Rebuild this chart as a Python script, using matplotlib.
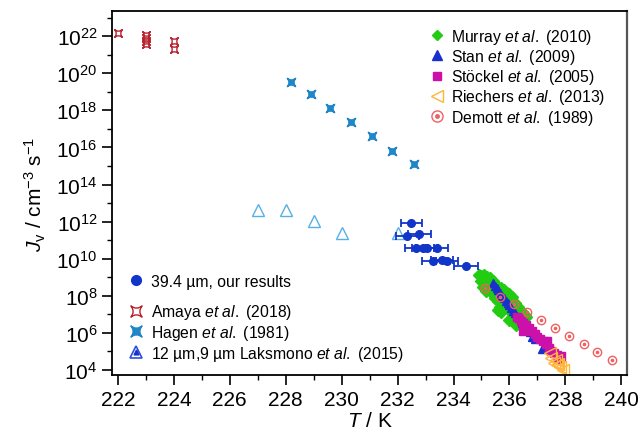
import numpy as np
import matplotlib
matplotlib.use('Agg')
import matplotlib.pyplot as plt
from matplotlib.path import Path
from matplotlib.lines import Line2D
from matplotlib.ticker import FixedLocator, NullFormatter

plt.rcParams['font.family'] = ['Liberation Sans', 'DejaVu Sans']
plt.rcParams['mathtext.fontset'] = 'custom'
plt.rcParams['mathtext.rm'] = 'Liberation Sans'
plt.rcParams['mathtext.it'] = 'Liberation Sans:italic'
plt.rcParams['mathtext.bf'] = 'Liberation Sans:bold'

# ---------------- data (T in K, log10 J in cm^-3 s^-1) ----------------
amaya_T = [222.0, 223.0, 223.0, 223.0, 223.0, 224.0, 224.0]
amaya_logJ = [22.15, 22.07, 21.89, 21.73, 21.58, 21.75, 21.3]

hagen_T = [228.2, 228.9, 229.6, 230.35, 231.1, 231.8, 232.6]
hagen_logJ = [19.52, 18.86, 18.14, 17.37, 16.6, 15.82, 15.09]

laks_T = [227.0, 228.0, 229.0, 230.0, 232.0]
laks_logJ = [12.62, 12.6, 12.03, 11.39, 11.4]

ours_T = [232.49, 232.35, 232.78, 232.66, 232.92, 233.06, 233.42, 233.28, 233.58, 233.76, 234.45]
ours_logJ = [11.91, 11.21, 11.33, 10.58, 10.6, 10.56, 10.6, 9.89, 9.95, 9.87, 9.59]
ours_Terr = [0.38, 0.4, 0.4, 0.4, 0.4, 0.4, 0.4, 0.4, 0.4, 0.4, 0.44]

murray_T = [234.9, 235.0, 235.1, 235.2, 235.3, 235.0, 235.1, 235.2, 235.05, 235.4,
            235.5, 235.6, 235.7, 235.8, 235.9, 236.0, 236.1, 235.3, 235.4, 235.5,
            235.6, 235.7, 235.8, 235.9, 236.0, 236.1, 236.2, 236.3, 236.4, 236.5,
            236.6, 236.2, 236.3, 236.4, 236.5, 236.1, 236.0, 235.6, 235.7, 235.65,
            235.2, 235.35, 236.2, 236.25, 235.45, 235.55, 235.85, 235.95, 236.35, 236.55,
            235.15, 235.25, 235.75, 236.05]
murray_logJ = [9.1, 9.05, 9.1, 9.0, 8.95, 8.8, 8.7, 8.55, 8.5, 8.8,
               8.6, 8.5, 8.4, 8.3, 8.15, 8.1, 7.95, 8.3, 8.1, 7.9,
               7.7, 7.9, 7.6, 7.4, 7.5, 7.3, 7.6, 7.4, 7.2, 7.0,
               6.85, 7.1, 6.9, 6.75, 6.65, 6.8, 6.7, 7.25, 7.15, 7.4,
               8.85, 8.65, 6.55, 6.45, 8.35, 8.15, 7.95, 7.85, 7.05, 6.95,
               8.25, 8.4, 7.45, 7.15]

stan_T = [235.4, 235.47, 235.54, 235.6, 235.67, 235.74, 235.8, 235.87, 235.94, 236.0,
          236.07, 236.14, 236.2, 236.27, 236.34, 236.45, 236.55, 236.72, 236.8, 236.9, 237.16]
stan_logJ = [8.7, 8.55, 8.42, 8.3, 8.15, 8.0, 7.88, 7.74, 7.6, 7.48,
             7.33, 7.2, 7.07, 6.93, 6.8, 6.55, 6.35, 6.04, 5.8, 5.65, 5.14]

stockel_T = [236.28, 236.35, 236.4, 236.5, 236.6, 236.7, 236.8, 236.9, 237.0, 237.1,
             237.2, 237.3, 237.4, 237.5, 237.6, 237.7, 237.8, 237.85, 237.33, 237.75, 236.48]
stockel_logJ = [6.85, 6.8, 6.65, 6.55, 6.4, 6.25, 6.1, 5.95, 5.8, 5.65,
                5.55, 5.4, 5.2, 5.05, 4.9, 4.8, 4.7, 4.75, 5.58, 4.6, 6.1]

riech_T = [237.45, 237.5, 237.6, 237.65, 237.75, 237.8, 237.9, 237.7]
riech_logJ = [4.9, 4.65, 4.4, 4.55, 4.3, 4.15, 4.0, 4.25]

demott_T = [235.13, 235.67, 236.17, 236.63, 237.13, 237.63, 238.14, 238.65, 239.14, 239.67]
demott_logJ = [8.42, 7.95, 7.56, 7.13, 6.71, 6.27, 5.83, 5.42, 4.99, 4.56]

xticks = [222, 224, 226, 228, 230, 232, 234, 236, 238, 240]
ytick_exps = [4, 6, 8, 10, 12, 14, 16, 18, 20, 22]

def J(v):
    return 10.0 ** np.asarray(v)

# ---------------- marker shapes ----------------
M, C = Path.MOVETO, Path.CURVE3
c = -0.2
star_verts = [(-1, -1), (0, c), (1, -1), (-c, 0), (1, 1), (0, -c), (-1, 1), (c, 0), (-1, -1), (0, 0)]
star_codes = [M, C, C, C, C, C, C, C, C, Path.CLOSEPOLY]
star = Path(star_verts, star_codes)

col_amaya = '#b8232f'
col_hagen = '#1f86c8'
col_laks = '#56b0e6'
col_ours = '#1035c8'
col_murray = '#22cc10'
col_stan = '#1a30cc'
col_stockel = '#cc10aa'
col_riech = '#ffb43c'
col_demott = '#f06060'

fig = plt.figure(figsize=(6.4, 4.39), dpi=100)
ax = fig.add_axes([0.175, 0.1435, 0.805, 0.829])

ax.plot(amaya_T, J(amaya_logJ), ls='none', marker=star, ms=5.5, mfc='none', mec=col_amaya, mew=1.0)
ax.plot(hagen_T, J(hagen_logJ), ls='none', marker=star, ms=6, mfc=col_hagen, mec=col_hagen, mew=1.0)
ax.plot(laks_T, J(laks_logJ), ls='none', marker='^', ms=8, mfc='none', mec=col_laks, mew=1.0)
ax.plot(murray_T, J(murray_logJ), ls='none', marker='D', ms=6, mfc=col_murray, mec=col_murray)
ax.plot(stan_T, J(stan_logJ), ls='none', marker='^', ms=6, mfc=col_stan, mec=col_stan)
ax.plot(stockel_T, J(stockel_logJ), ls='none', marker='s', ms=6, mfc=col_stockel, mec=col_stockel)
ax.plot(riech_T, J(riech_logJ), ls='none', marker='<', ms=8, mfc='none', mec=col_riech, mew=1.0)
ax.plot(demott_T, J(demott_logJ), ls='none', marker='o', ms=6, mfc='none', mec=col_demott, mew=1.0)
ax.plot(demott_T, J(demott_logJ), ls='none', marker='o', ms=1.6, mfc=col_demott, mec=col_demott)
ax.errorbar(ours_T, J(ours_logJ), xerr=ours_Terr, fmt='o', ms=5.5, color=col_ours,
            ecolor=col_ours, elinewidth=1.3, capsize=3, capthick=1.3)

# ---------------- legends ----------------
fs_leg = 11.3
h_murray = Line2D([], [], ls='none', marker='D', ms=5, mfc=col_murray, mec=col_murray)
h_stan = Line2D([], [], ls='none', marker='^', ms=7, mfc=col_stan, mec=col_stan)
h_stockel = Line2D([], [], ls='none', marker='s', ms=5.5, mfc=col_stockel, mec=col_stockel)
h_riech = Line2D([], [], ls='none', marker='<', ms=9, mfc='none', mec=col_riech, mew=1.0)
h_dem1 = Line2D([], [], ls='none', marker='o', ms=8, mfc='none', mec=col_demott, mew=1.0)
h_dem2 = Line2D([], [], ls='none', marker='o', ms=2.5, mfc=col_demott, mec=col_demott)
leg1 = ax.legend([h_murray, h_stan, h_stockel, h_riech, (h_dem1, h_dem2)],
                 [r'Murray $\it{et\ al.}$ (2010)', r'Stan $\it{et\ al.}$ (2009)',
                  r'Stöckel $\it{et\ al.}$ (2005)', r'Riechers $\it{et\ al.}$ (2013)',
                  r'Demott $\it{et\ al.}$ (1989)'],
                 loc='center left', bbox_to_anchor=(0.603, 0.82), frameon=False, fontsize=fs_leg,
                 handlelength=1.0, handletextpad=0.4, labelspacing=0.08, borderaxespad=0.0)
ax.add_artist(leg1)

h_ours = Line2D([], [], ls='none', marker='o', ms=7, mfc=col_ours, mec=col_ours)
leg2 = ax.legend([h_ours], [r'39.4 µm, our results'], loc='center left',
                 bbox_to_anchor=(0.02, 0.257), frameon=False, fontsize=fs_leg,
                 handlelength=1.0, handletextpad=0.4, borderaxespad=0.0)
ax.add_artist(leg2)

h_am = Line2D([], [], ls='none', marker=star, ms=8, mfc='none', mec=col_amaya, mew=1.0)
h_ha = Line2D([], [], ls='none', marker=star, ms=8, mfc=col_hagen, mec=col_hagen)
h_la1 = Line2D([], [], ls='none', marker='^', ms=9, mfc='none', mec='#2a4fe0', mew=1.2)
h_la2 = Line2D([], [], ls='none', marker='^', ms=3.5, mfc='#1a30cc', mec='#1a30cc')
ax.legend([h_am, h_ha, (h_la1, h_la2)],
          [r'Amaya $\it{et\ al.}$ (2018)', r'Hagen $\it{et\ al.}$ (1981)',
           r'12 µm,9 µm Laksmono $\it{et\ al.}$ (2015)'],
          loc='center left', bbox_to_anchor=(0.02, 0.117), frameon=False, fontsize=fs_leg,
          handlelength=1.0, handletextpad=0.4, labelspacing=0.12, borderaxespad=0.0)

# ---------------- axes ----------------
ax.set_xlim(221.79, 240.21)
ax.set_yscale('log')
ax.set_ylim(10 ** 3.73, 10 ** 23.35)
ax.set_xticks(xticks)
ax.set_xticklabels([str(t) for t in xticks])
ax.xaxis.set_minor_locator(FixedLocator([t + 1 for t in xticks[:-1]]))
ax.yaxis.set_major_locator(FixedLocator([10.0 ** e for e in ytick_exps]))
ax.set_yticklabels([r'$10^{%d}$' % e for e in ytick_exps])
ax.yaxis.set_minor_locator(FixedLocator([10.0 ** (e + 1) for e in ytick_exps]))
ax.yaxis.set_minor_formatter(NullFormatter())
ax.tick_params(axis='both', which='major', direction='out', length=7, width=1.2, labelsize=15,
               top=False, right=False)
ax.tick_params(axis='both', which='minor', direction='out', length=3.5, width=1.0,
               top=False, right=False)
for s in ax.spines.values():
    s.set_linewidth(1.3)
ax.spines['right'].set_color('#555555')
ax.spines['right'].set_linewidth(1.6)

ax.set_xlabel(r'$T$ / K', fontsize=15, labelpad=2)
ax.set_ylabel(r'$J_\mathrm{v}$ / cm$^{-3}$ s$^{-1}$', fontsize=15, labelpad=6)

fig.savefig('out.png', dpi=100)
